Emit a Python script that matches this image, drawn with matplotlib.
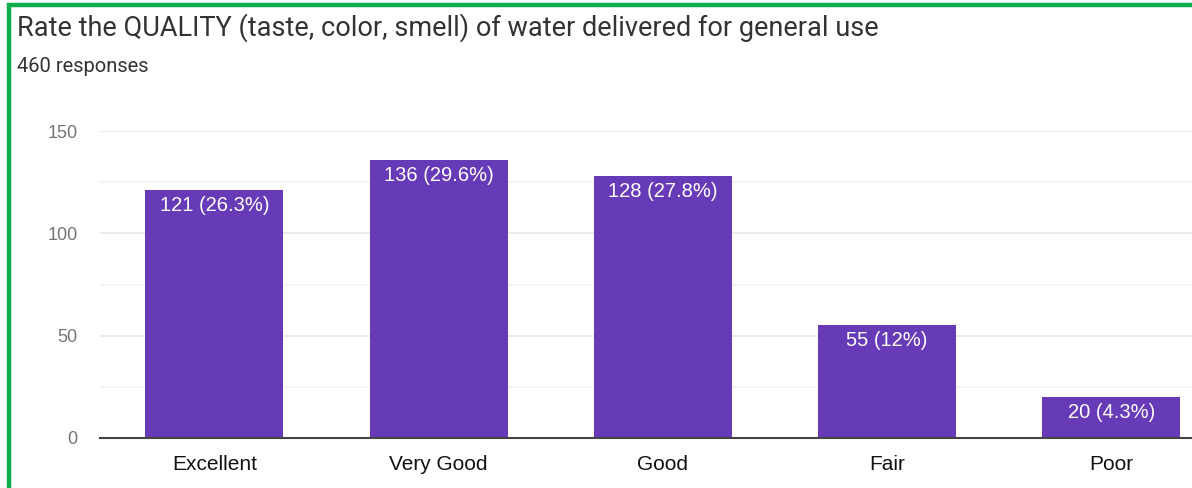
import matplotlib
matplotlib.use("Agg")
import matplotlib.pyplot as plt
from matplotlib.lines import Line2D

categories = ["Excellent", "Very Good", "Good", "Fair", "Poor"]
counts = [121, 136, 128, 55, 20]
labels = ["121 (26.3%)", "136 (29.6%)", "128 (27.8%)", "55 (12%)", "20 (4.3%)"]
title = "Rate the QUALITY (taste, color, smell) of water delivered for general use"
subtitle = "460 responses"
yticks = [0, 50, 100, 150]
minor_yticks = [25, 75, 125]

W, H = 1192, 488
fig = plt.figure(figsize=(W / 100, H / 100), dpi=100)
fig.patch.set_facecolor("white")

ax = fig.add_axes([100 / W, 1 - 438 / H, 1 - 100 / W, (438 - 131) / H])
x = list(range(len(categories)))
bars = ax.bar(x, counts, width=0.616, color="#673AB7", zorder=3)
ax.set_xlim(-0.51, 4.36)
ax.set_ylim(0, 150)

ax.set_yticks(yticks)
ax.set_yticks(minor_yticks, minor=True)
ax.grid(axis="y", which="major", color="#e6e6e6", linewidth=1.2, zorder=0)
ax.grid(axis="y", which="minor", color="#f3f3f3", linewidth=1.2, zorder=0)
for s in ["top", "right", "left"]:
    ax.spines[s].set_visible(False)
ax.spines["bottom"].set_color("#444444")
ax.spines["bottom"].set_linewidth(1.5)
ax.spines["bottom"].set_zorder(4)

ax.set_xticks(x)
ax.set_xticklabels(categories, fontsize=15, color="#111111", family="Liberation Sans")
ax.tick_params(axis="x", length=0, pad=12)
ax.tick_params(axis="y", which="both", length=0, pad=16, labelsize=13, labelcolor="#757575")
for t in ax.get_yticklabels():
    t.set_family("Liberation Sans")

for xi, v, lab in zip(x, counts, labels):
    ax.annotate(lab, (xi, v), xytext=(0, -6), textcoords="offset pixels",
                ha="center", va="top", color="white", fontsize=14.5,
                family="Liberation Sans", zorder=5)

fig.text(17 / W, 1 - 36 / H, title, fontsize=19.5, color="#333333",
         family="Roboto", ha="left", va="baseline")
fig.text(17 / W, 1 - 72 / H, subtitle, fontsize=14.5, color="#333333",
         family="Roboto", ha="left", va="baseline")

green = "#0CAE4C"
fig.add_artist(Line2D([7 / W, 1], [1 - 5 / H, 1 - 5 / H], color=green, linewidth=3.2,
                      transform=fig.transFigure, solid_capstyle="butt"))
fig.add_artist(Line2D([8.5 / W, 8.5 / W], [0, 1 - 3 / H], color=green, linewidth=3.2,
                      transform=fig.transFigure, solid_capstyle="butt"))

fig.savefig("out.png", dpi=100, facecolor="white")
